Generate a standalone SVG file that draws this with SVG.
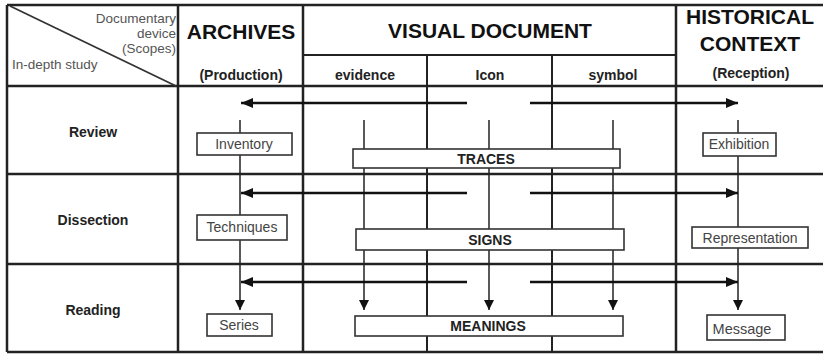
<svg xmlns="http://www.w3.org/2000/svg" width="823" height="354" viewBox="0 0 823 354">
<defs>
<style>
.grid{stroke:#222;stroke-width:2.5;fill:none}
.sub{stroke:#222;stroke-width:2;fill:none}
.flow{stroke:#222;stroke-width:1.5;fill:none}
.harr{stroke:#111;stroke-width:2.5;fill:none}
.box{fill:#fff;stroke:#333;stroke-width:1.6}
.big{font-family:"Liberation Sans",Arial,sans-serif;font-weight:bold;font-size:21px;fill:#111;text-anchor:middle}
.hd{font-family:"Liberation Sans",Arial,sans-serif;font-weight:bold;font-size:14px;fill:#222;text-anchor:middle}
.row{font-family:"Liberation Sans",Arial,sans-serif;font-weight:bold;font-size:14px;fill:#222;text-anchor:middle}
.corner{font-family:"Liberation Sans",Arial,sans-serif;font-size:13.5px;fill:#555}
.lbl{font-family:"Liberation Sans",Arial,sans-serif;font-size:14px;fill:#444;text-anchor:middle}
.blbl{font-family:"Liberation Sans",Arial,sans-serif;font-weight:bold;font-size:14px;fill:#222;text-anchor:middle}
</style>
<marker id="ah" viewBox="0 0 12 10" refX="12" refY="5" markerWidth="12" markerHeight="10" markerUnits="userSpaceOnUse" orient="auto">
<path d="M0,0 L12,5 L0,10 z" fill="#111"/>
</marker>
<marker id="av" viewBox="0 0 10 10" refX="10" refY="5" markerWidth="10" markerHeight="10" markerUnits="userSpaceOnUse" orient="auto">
<path d="M0,0 L10,5 L0,10 z" fill="#111"/>
</marker>
</defs>
<rect width="823" height="354" fill="#fff"/>
<g id="table">
<line class="grid" x1="7" y1="5" x2="823" y2="5"/>
<line class="grid" x1="7" y1="86" x2="823" y2="86"/>
<line class="grid" x1="7" y1="174" x2="823" y2="174"/>
<line class="grid" x1="7" y1="264" x2="823" y2="264"/>
<line class="grid" x1="7" y1="352" x2="823" y2="352"/>
<line class="grid" x1="7" y1="5" x2="7" y2="352"/>
<line class="grid" x1="178" y1="5" x2="178" y2="352"/>
<line class="grid" x1="303" y1="5" x2="303" y2="352"/>
<line class="grid" x1="676" y1="5" x2="676" y2="352"/>
<line class="sub" x1="303" y1="55" x2="676" y2="55"/>
<line class="sub" x1="427" y1="55" x2="427" y2="352"/>
<line class="sub" x1="552" y1="55" x2="552" y2="352"/>
<line stroke="#333" stroke-width="1.8" x1="10" y1="6" x2="176" y2="86"/>
</g>
<g id="corner-header">
<text class="corner" x="176" y="23" text-anchor="end">Documentary</text>
<text class="corner" x="176" y="38" text-anchor="end">device</text>
<text class="corner" x="176" y="53" text-anchor="end">(Scopes)</text>
<text class="corner" x="12" y="69">In-depth study</text>
</g>
<g id="archives-header">
<text class="big" x="241" y="39">ARCHIVES</text>
<text class="hd" x="241" y="80">(Production)</text>
</g>
<g id="visual-header">
<text class="big" x="490" y="38">VISUAL DOCUMENT</text>
<text class="hd" x="365" y="80">evidence</text>
<text class="hd" x="490" y="80">Icon</text>
<text class="hd" x="613" y="80">symbol</text>
</g>
<g id="historical-header">
<text class="big" x="750" y="24">HISTORICAL</text>
<text class="big" x="750" y="51">CONTEXT</text>
<text class="hd" x="751" y="78">(Reception)</text>
</g>
<g id="row-labels">
<text class="row" x="93" y="137">Review</text>
<text class="row" x="93" y="225">Dissection</text>
<text class="row" x="93" y="315">Reading</text>
</g>
<g id="connectors">
<line class="flow" x1="240" y1="120" x2="240" y2="310" marker-end="url(#av)"/>
<line class="flow" x1="364" y1="120" x2="364" y2="310" marker-end="url(#av)"/>
<line class="flow" x1="489" y1="120" x2="489" y2="310" marker-end="url(#av)"/>
<line class="flow" x1="613" y1="120" x2="613" y2="310" marker-end="url(#av)"/>
<line class="flow" x1="738" y1="120" x2="738" y2="310" marker-end="url(#av)"/>
<line class="harr" x1="467" y1="103" x2="241" y2="103" marker-end="url(#ah)"/>
<line class="harr" x1="530" y1="103" x2="738" y2="103" marker-end="url(#ah)"/>
<line class="harr" x1="467" y1="193" x2="241" y2="193" marker-end="url(#ah)"/>
<line class="harr" x1="530" y1="193" x2="738" y2="193" marker-end="url(#ah)"/>
<line class="harr" x1="467" y1="282" x2="241" y2="282" marker-end="url(#ah)"/>
<line class="harr" x1="530" y1="282" x2="738" y2="282" marker-end="url(#ah)"/>
</g>
<g id="inventory"><rect class="box" x="197" y="133" width="95" height="22"/><text class="lbl" x="244" y="149">Inventory</text></g>
<g id="traces"><rect class="box" x="353" y="149" width="267" height="19"/><text class="blbl" x="486" y="164">TRACES</text></g>
<g id="exhibition"><rect class="box" x="703" y="133" width="73" height="23"/><text class="lbl" x="739" y="149">Exhibition</text></g>
<g id="techniques"><rect class="box" x="197" y="215" width="90" height="25"/><text class="lbl" x="242" y="232">Techniques</text></g>
<g id="signs"><rect class="box" x="356" y="229" width="268" height="21"/><text class="blbl" x="490" y="245">SIGNS</text></g>
<g id="representation"><rect class="box" x="692" y="227" width="116" height="21"/><text class="lbl" x="750" y="243">Representation</text></g>
<g id="series"><rect class="box" x="207" y="314" width="65" height="22"/><text class="lbl" x="239" y="330">Series</text></g>
<g id="meanings"><rect class="box" x="355" y="316" width="268" height="20"/><text class="blbl" x="488" y="331">MEANINGS</text></g>
<g id="message"><rect class="box" x="707" y="315" width="78" height="25"/><text class="lbl" x="742" y="334" style="font-size:14.5px">Message</text></g>
</svg>
